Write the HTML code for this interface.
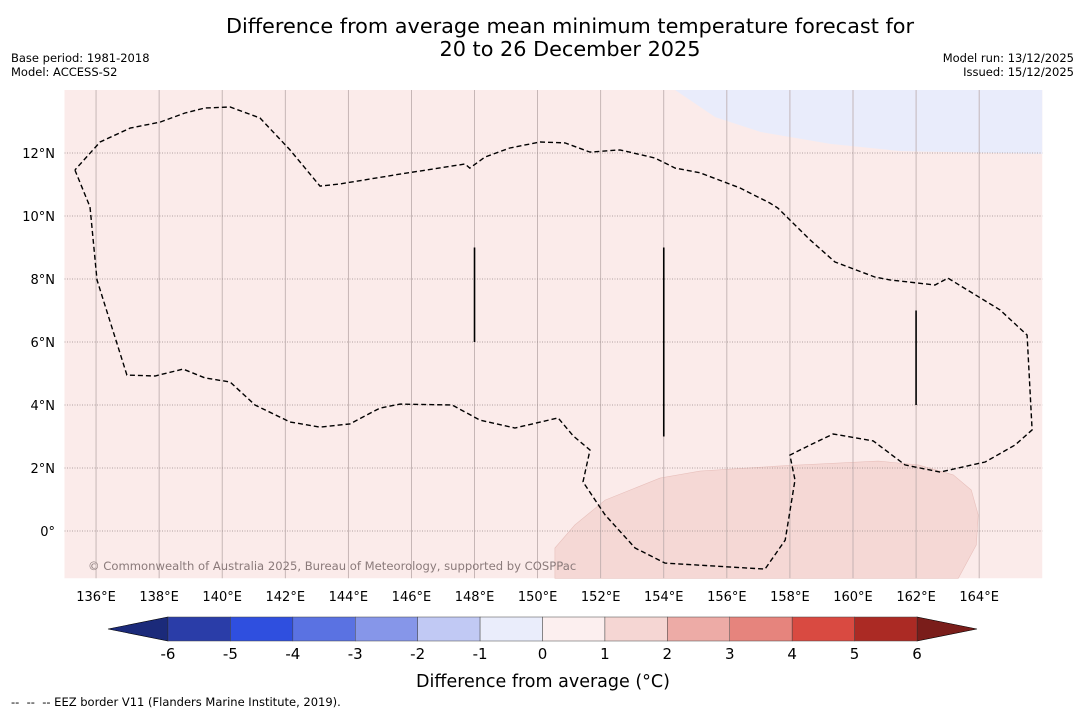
<!DOCTYPE html>
<html><head><meta charset="utf-8">
<style>
body{margin:0;background:#fff;font-family:"DejaVu Sans","Liberation Sans",sans-serif;}
#wrap{position:relative;width:1085px;height:713px;overflow:hidden;background:#fff;}
.t{position:absolute;white-space:nowrap;}
svg text{font-family:"DejaVu Sans","Liberation Sans",sans-serif;}
</style></head>
<body>
<div id="wrap">
<div class="t" style="left:0;width:1140px;top:15px;text-align:center;font-size:20.8px;line-height:23px;color:#000;">Difference from average mean minimum temperature forecast for<br>20 to 26 December 2025</div>
<div class="t" style="left:11px;top:51px;font-size:11.5px;line-height:14px;">Base period: 1981-2018<br>Model: ACCESS-S2</div>
<div class="t" style="right:11px;top:51px;font-size:11.5px;line-height:14px;text-align:right;">Model run: 13/12/2025<br>Issued: 15/12/2025</div>
<svg id="svg" width="1085" height="713" style="position:absolute;left:0;top:0"></svg>
<div class="t" style="left:11px;top:695px;font-size:11.5px;">--&nbsp; --&nbsp; -- EEZ border V11 (Flanders Marine Institute, 2019).</div>
</div>
<script>
const lonTicks=[136,138,140,142,144,146,148,150,152,154,156,158,160,162,164];
const latTicks=[0,2,4,6,8,10,12];
const cbLevels=[-6,-5,-4,-3,-2,-1,0,1,2,3,4,5,6];
const cbColors=["#2a3da8","#2f4fdf","#5a72e2","#8696e9","#c1c9f4","#eaedfb","#fcefef","#f5d6d3","#edaba6","#e6847d","#d94a41","#ab2a24"];
const eez=[[135.33,11.46],[135.81,10.29],[136.03,7.97],[136.98,4.95],[137.87,4.92],[138.76,5.14],[139.45,4.86],[140.25,4.73],[141.04,4.0],[142.15,3.46],[143.1,3.3],[144.05,3.4],[145.0,3.9],[145.64,4.03],[147.29,4.0],[148.17,3.52],[149.28,3.27],[150.65,3.59],[151.13,3.02],[151.66,2.57],[151.44,1.56],[152.14,0.51],[153.09,-0.54],[154.04,-1.02],[157.21,-1.21],[157.85,-0.29],[158.16,1.62],[158.0,2.41],[158.64,2.73],[159.37,3.08],[160.64,2.86],[161.65,2.1],[162.76,1.87],[164.19,2.19],[165.14,2.73],[165.68,3.21],[165.52,6.22],[164.66,7.02],[163.01,8.03],[162.6,7.81],[161.17,7.97],[160.7,8.06],[159.43,8.54],[158.64,9.24],[157.62,10.25],[157.37,10.41],[156.42,10.89],[155.15,11.37],[154.36,11.52],[153.72,11.84],[152.61,12.1],[151.66,12.03],[150.87,12.32],[150.08,12.35],[149.12,12.16],[148.33,11.87],[147.85,11.52],[147.7,11.65],[145.64,11.33],[143.74,11.02],[143.1,10.95],[142.15,12.1],[141.2,13.11],[140.25,13.46],[139.45,13.43],[138.82,13.27],[138.03,12.98],[137.08,12.79],[136.13,12.35],[135.33,11.46]];
const blueRegion=[[154.36,14],[155.63,13.14],[157.06,12.67],[159.28,12.29],[161.5,12.06],[166,11.97],[166,14]];
const pinkRegion=[[150.55,-1.5],[150.55,-0.54],[151.18,0.19],[152.14,0.98],[153.88,1.68],[155.15,1.9],[157.62,2.06],[160.8,2.22],[162.07,2.1],[163.18,1.78],[163.75,1.3],[163.97,0.51],[163.91,-0.44],[163.34,-1.5]];
const vLines=[[148,6,9],[154,3,9],[162,4,7]];
const X0=64.5,Y0=531,PX=31.54,PY=31.5;
const x=lon=>X0+(lon-135)*PX, y=lat=>Y0-lat*PY;
const svg=document.getElementById('svg');const NS='http://www.w3.org/2000/svg';
function mk(t,a,p){const e=document.createElementNS(NS,t);for(const k in a)e.setAttribute(k,a[k]);(p||svg).appendChild(e);return e;}
const pts=a=>a.map(p=>x(p[0]).toFixed(1)+','+y(p[1]).toFixed(1)).join(' ');
const L=x(135),R=x(166),T=y(14),B=y(-1.5);
let e;
e=mk('rect',{x:L,y:T,width:R-L,height:B-T,fill:'#fbebea'});


e=mk('polygon',{points:pts(blueRegion),fill:'#e9ecfb'});


e=mk('polygon',{points:pts(pinkRegion),fill:'#f5d8d5',stroke:'#e8c0bc','stroke-width':0.6});


lonTicks.forEach(l=>{
 e=mk('line',{x1:x(l),x2:x(l),y1:T,y2:B,stroke:'#b9a9a9','stroke-width':0.8});
 
 
 e=mk('text',{x:x(l),y:601,'text-anchor':'middle','font-size':13,fill:'#000'});e.textContent=l+'°E';
 
 
});
latTicks.forEach(l=>{
 e=mk('line',{x1:L,x2:R,y1:y(l),y2:y(l),stroke:'#9a8a8a','stroke-width':0.8,'stroke-dasharray':'1,1.5'});
 
 
 e=mk('text',{x:55,y:y(l)+5,'text-anchor':'end','font-size':13,fill:'#000'});e.textContent=l===0?'0°':l+'°N';
 
 
});
e=mk('polyline',{points:pts(eez),fill:'none',stroke:'#000','stroke-width':1.4,'stroke-dasharray':'5,3'});


vLines.forEach(v=>{
 e=mk('line',{x1:x(v[0]),x2:x(v[0]),y1:y(v[1]),y2:y(v[2]),stroke:'#000','stroke-width':1.6});
 
 
});
e=mk('text',{x:88,y:570,'font-size':11.6,fill:'#8a7a7a'});e.textContent='© Commonwealth of Australia 2025, Bureau of Meteorology, supported by COSPPac';


const cbL=168,cbR=917,cbT=617,cbB=641,seg=(cbR-cbL)/(cbLevels.length-1);
const cx=v=>cbL+(v-cbLevels[0])*seg;
e=mk('polygon',{points:`${cbL},${cbT} ${cbL},${cbB} 108,629`,fill:'#1b2a7a',stroke:'#000','stroke-width':0.6});


e=mk('polygon',{points:`${cbR},${cbT} ${cbR},${cbB} 977,629`,fill:'#7a1d1a',stroke:'#000','stroke-width':0.6});


cbColors.forEach((c,i)=>{
 e=mk('rect',{x:cx(cbLevels[i]),y:cbT,width:cx(cbLevels[i+1])-cx(cbLevels[i]),height:cbB-cbT,fill:c,stroke:'#444','stroke-width':0.5});
 
 
});
cbLevels.forEach(v=>{
 e=mk('text',{x:cx(v),y:659,'text-anchor':'middle','font-size':15,fill:'#000'});e.textContent=v;
 
 
});
e=mk('text',{x:543,y:687,'text-anchor':'middle','font-size':17.5,fill:'#000'});e.textContent='Difference from average (°C)';


</script>
</body></html>
